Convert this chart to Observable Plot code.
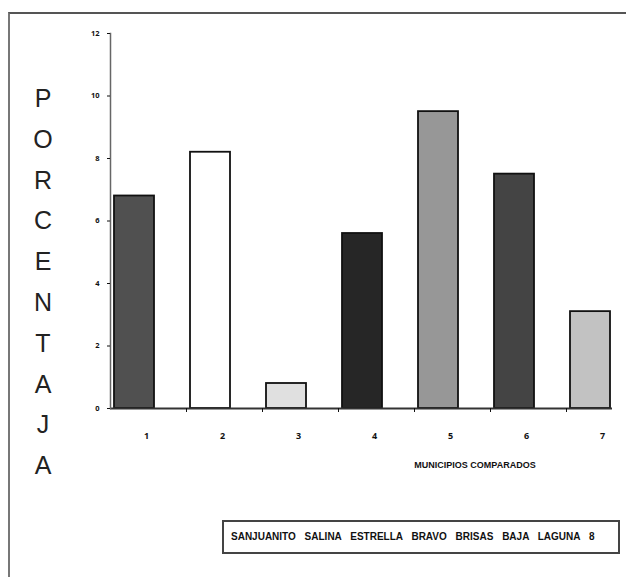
<!DOCTYPE html>
<html>
<head>
<meta charset="utf-8">
<script src="https://cdn.jsdelivr.net/npm/d3@7"></script>
<script src="https://cdn.jsdelivr.net/npm/@observablehq/plot@0.6"></script>
<style>
  html, body { margin: 0; padding: 0; background: #fff; }
  body { width: 626px; height: 577px; position: relative; overflow: hidden; font-family: "Liberation Sans", Arial, sans-serif; }
  #frame { position: absolute; left: 8px; top: 12px; width: 640px; height: 600px; border-top: 2px solid #555; border-left: 2px solid #777; box-sizing: border-box; }
  #chart { position: absolute; left: 0; top: 0; }
  #ylabel { position: absolute; left: 28px; top: 78px; width: 30px; text-align: center; font-size: 25px; color: #222; line-height: 40.8px; }
  #xtitle { position: absolute; left: 405px; top: 460px; width: 140px; text-align: center; font-family: "Liberation Sans Narrow", "Liberation Sans", Arial, sans-serif; font-weight: bold; font-size: 9px; color: #111; }
  #legend { position: absolute; left: 222px; top: 520px; width: 398px; height: 34px; border: 2px solid #444; box-sizing: border-box; }
  #legend span { position: absolute; left: 7px; top: 9px; white-space: nowrap; font-family: "Liberation Sans Narrow", "Liberation Sans", Arial, sans-serif; font-weight: bold; font-size: 10px; color: #111; word-spacing: 6px; }
</style>
</head>
<body>
<div id="frame"></div>
<div id="chart"></div>
<div id="ylabel"></div>
<div id="xtitle"></div>
<div id="legend"><span id="legtext"></span></div>
<script>
const categorias = ["1", "2", "3", "4", "5", "6", "7"];
const porcentajes = [6.8, 8.2, 0.8, 5.6, 9.5, 7.5, 3.1];
const yTicks = [0, 2, 4, 6, 8, 10, 12];
const nombres = ["SANJUANITO", "SALINA", "ESTRELLA", "BRAVO", "BRISAS", "BAJA", "LAGUNA", "8"];
const tituloY = "PORCENTAJA";
const tituloX = "MUNICIPIOS COMPARADOS";
const rellenos = ["#505050", "#ffffff", "#e0e0e0", "#262626", "#979797", "#444444", "#c2c2c2"];

const datos = categorias.map((c, i) => ({cat: c, val: porcentajes[i]}));

const chart = Plot.plot({
  width: 626,
  height: 480,
  marginLeft: 110,
  marginRight: 14,
  marginTop: 33,
  marginBottom: 72,
  style: {background: "transparent", color: "#111"},
  x: {domain: categorias, range: [112, 612], paddingInner: 0.478, paddingOuter: 0, label: null},
  y: {domain: [0, 12], label: null},
  color: {domain: categorias, range: rellenos},
  marks: [
    Plot.barY(datos, {x: "cat", y: "val", fill: "cat", stroke: "#111", strokeWidth: 1.8}),
    Plot.ruleY([0], {stroke: "#333", strokeWidth: 2}),
    Plot.frame({anchor: "left", stroke: "#666", strokeWidth: 1.5}),
    Plot.axisY({ticks: yTicks, tickSize: 3, tickPadding: 8, fontSize: 7.5, fontWeight: "bold", label: null}),
    Plot.axisX({tickSize: 0, tickPadding: 24, dx: 12, fontSize: 9, fontWeight: "bold", label: null}),
    Plot.axisX({tickSize: 4, tickFormat: () => "", dx: 52, label: null})
  ]
});
document.getElementById("chart").appendChild(chart);
document.getElementById("ylabel").innerHTML = tituloY.split("").map(ch => `<div>${ch}</div>`).join("");
document.getElementById("xtitle").textContent = tituloX;
document.getElementById("legtext").textContent = nombres.join(" ");
</script>
</body>
</html>
